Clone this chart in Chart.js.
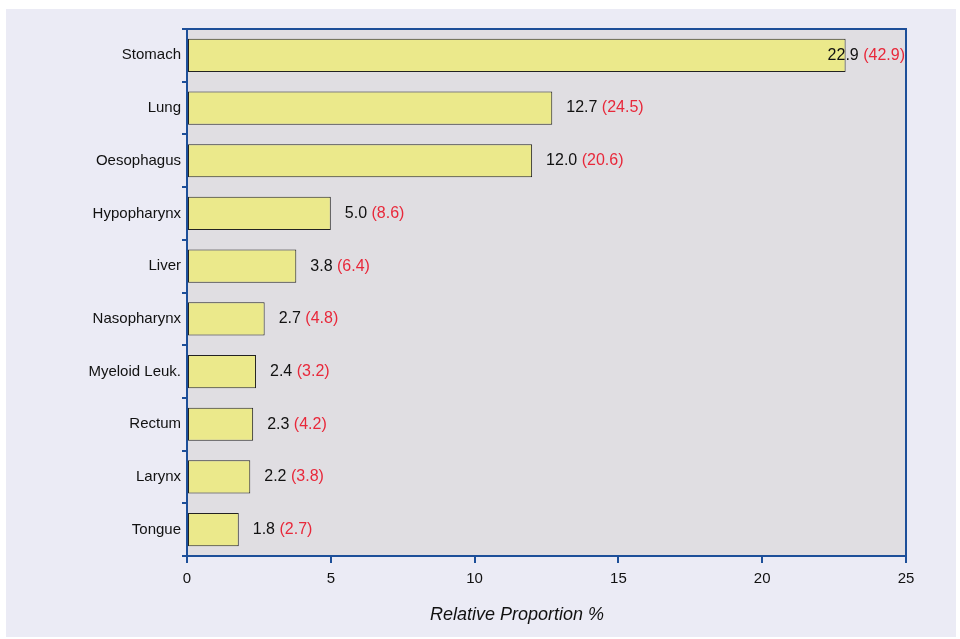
<!DOCTYPE html>
<html lang="en">
<head>
<meta charset="UTF-8">
<title>Relative Proportion</title>
<script src="https://cdn.jsdelivr.net/npm/chart.js"></script>
<style>
  html, body { margin: 0; padding: 0; background: #fff; }
  #wrap { width: 960px; height: 639px; }
</style>
</head>
<body>
<div id="wrap"><canvas id="myChart" width="960" height="639"></canvas></div>
<script>
// Cancer sites and their relative proportion; the red value in brackets is shown next to each bar
const sites = ['Stomach', 'Lung', 'Oesophagus', 'Hypopharynx', 'Liver', 'Nasopharynx',
               'Myeloid Leuk.', 'Rectum', 'Larynx', 'Tongue'];
const proportion = [22.9, 12.7, 12.0, 5.0, 3.8, 2.7, 2.4, 2.3, 2.2, 1.8];
const bracketed = [42.9, 24.5, 20.6, 8.6, 6.4, 4.8, 3.2, 4.2, 3.8, 2.7];
const xTicks = [0, 5, 10, 15, 20, 25];
const xTitle = 'Relative Proportion %';

const BLUE = '#1d4f99';
const FONT = '"Liberation Sans", Arial, sans-serif';

// background panels, frame round the plot area and the axis title
const backdrop = {
  id: 'backdrop',
  beforeDraw(chart) {
    const c = chart.ctx, a = chart.chartArea;
    c.save();
    c.fillStyle = '#ffffff';
    c.fillRect(0, 0, chart.width, chart.height);
    c.fillStyle = '#ebebf5';
    c.fillRect(6, 9, 950, 628);
    c.fillStyle = '#e0dee2';
    c.fillRect(a.left, a.top, a.right - a.left, a.bottom - a.top);
    c.restore();
  },
  afterDraw(chart) {
    const c = chart.ctx, a = chart.chartArea;
    c.save();
    c.strokeStyle = BLUE;
    c.lineWidth = 2;
    c.strokeRect(a.left, a.top, a.right - a.left, a.bottom - a.top);
    c.font = 'italic 18px ' + FONT;
    c.fillStyle = '#111';
    c.textAlign = 'center';
    c.textBaseline = 'middle';
    c.fillText(xTitle, 517, 615);
    c.restore();
  }
};

// value labels: black number then red bracketed number
const valueLabels = {
  id: 'valueLabels',
  afterDatasetsDraw(chart) {
    const c = chart.ctx, a = chart.chartArea;
    const meta = chart.getDatasetMeta(0);
    c.save();
    c.font = '16px ' + FONT;
    c.textBaseline = 'middle';
    meta.data.forEach((bar, i) => {
      const t1 = proportion[i].toFixed(1) + ' ';
      const t2 = '(' + bracketed[i].toFixed(1) + ')';
      const w1 = c.measureText(t1).width, w2 = c.measureText(t2).width;
      let x = bar.x + 14;
      if (x + w1 + w2 > a.right - 1) x = a.right - 1 - w1 - w2;
      c.fillStyle = '#111';
      c.fillText(t1, x, bar.y);
      c.fillStyle = '#e8283a';
      c.fillText(t2, x + w1, bar.y);
    });
    c.restore();
  }
};

new Chart(document.getElementById('myChart'), {
  type: 'bar',
  data: {
    labels: sites,
    datasets: [{
      data: proportion,
      backgroundColor: '#ebe98b',
      borderColor: '#222',
      borderWidth: 1,
      borderSkipped: false,
      categoryPercentage: 1.0,
      barPercentage: 0.63
    }]
  },
  options: {
    indexAxis: 'y',
    responsive: false,
    animation: false,
    layout: { padding: { top: 29, right: 54, left: 0, bottom: 0 } },
    plugins: { legend: { display: false }, tooltip: { enabled: false } },
    scales: {
      x: {
        min: 0, max: 25,
        afterBuildTicks(scale) { scale.ticks = xTicks.map(v => ({ value: v })); },
        afterFit(scale) { scale.height = 83; },
        grid: { drawOnChartArea: false, color: BLUE, tickLength: 7, lineWidth: 2 },
        border: { color: BLUE, width: 2 },
        ticks: { color: '#111', font: { size: 15, family: FONT }, padding: 7 }
      },
      y: {
        afterFit(scale) { scale.width = 187; },
        grid: { drawOnChartArea: false, color: BLUE, tickLength: 5, lineWidth: 2, offset: true },
        border: { color: BLUE, width: 2 },
        ticks: { color: '#111', font: { size: 15, family: FONT }, padding: 1 }
      }
    }
  },
  plugins: [backdrop, valueLabels]
});
</script>
</body>
</html>
